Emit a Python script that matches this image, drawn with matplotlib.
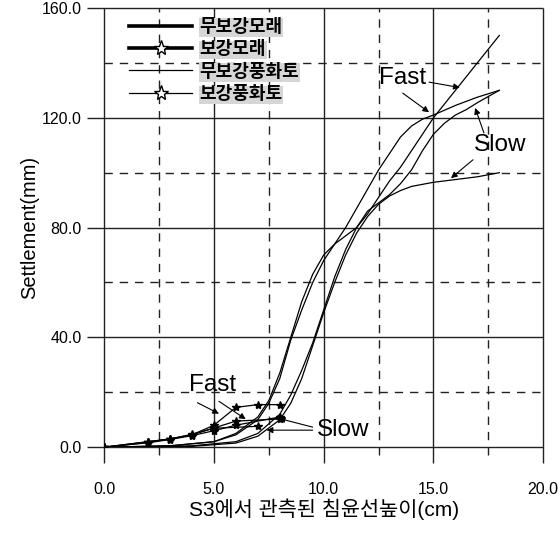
import matplotlib
matplotlib.use('Agg')
import matplotlib.pyplot as plt
from matplotlib.lines import Line2D

plt.rcParams['font.family'] = ['Liberation Sans', 'Noto Sans CJK KR', 'DejaVu Sans']

# 무보강 (unreinforced) curves
sand_fast_x = [0, 3, 5, 6, 7, 7.5, 8, 8.5, 9, 9.5, 10, 10.5, 11, 11.5, 12, 12.5, 13, 13.5, 14, 15, 16, 17, 18]
sand_fast_y = [0, 0.5, 2, 5, 11, 17, 27, 40, 53, 63, 70, 74, 77, 80, 85, 91, 97, 102, 108, 120, 130, 140, 150]
weath_fast_x = [0, 3, 5, 6, 7, 7.5, 8, 8.5, 9, 9.5, 10, 10.5, 11, 11.5, 12, 12.5, 13, 13.5, 14, 14.5, 15, 16, 17, 18]
weath_fast_y = [0, 0.5, 2, 4.5, 10, 16, 25, 39, 50, 60, 68, 74, 80, 87, 94, 101, 107, 113, 117, 119.5, 121, 124.5, 127.5, 130]
sand_slow_x = [0, 4, 6, 7, 8, 8.5, 9, 9.5, 10, 10.5, 11, 11.5, 12, 12.5, 13, 13.5, 14, 14.5, 15, 15.5, 16, 16.5, 17, 18]
sand_slow_y = [0, 0.5, 2, 5, 12, 19, 28, 38, 50, 62, 72, 80, 86, 89, 92, 96, 101, 108, 114, 118, 121, 123, 125.5, 130]
weath_slow_x = [0, 4, 6, 7, 8, 8.5, 9, 9.5, 10, 10.5, 11, 11.5, 12, 12.5, 13, 13.5, 14, 15, 16, 17, 18]
weath_slow_y = [0, 0.3, 1.5, 4, 10, 16, 25, 37, 49, 60, 70, 78, 84, 88.5, 91.5, 93.5, 95, 96.5, 97.5, 98.5, 100]

# 보강 (reinforced) curves
rs_fast_x = [0, 2, 3, 4, 5, 6, 7, 8]
rs_fast_y = [0, 2, 3, 4.5, 8, 14.5, 15.5, 15.5]
rw_fast_x = [0, 2, 3, 4, 5, 6, 8]
rw_fast_y = [0, 2, 3, 4.5, 7, 9.5, 10.3]
rs_slow_x = [0, 2, 3, 4, 5, 7]
rs_slow_y = [0, 1.8, 3, 4.7, 6.9, 7.6]
rw_slow_x = [0, 2, 3, 4, 5, 6, 8]
rw_slow_y = [0, 1.6, 2.8, 4.2, 6.0, 8.0, 11.0]

legend_labels = ['무보강모래', '보강모래', '무보강풍화토', '보강풍화토']

fig = plt.figure(figsize=(5.6, 5.33), dpi=100)
ax = fig.add_axes([0.186, 0.161, 0.784, 0.824])
ax.set_xlim(0, 20)
ax.set_ylim(0, 160)
for s in ax.spines.values():
    s.set_visible(False)

# grid, extended outside like tick marks
for x in [0, 5, 10, 15, 20]:
    ax.vlines(x, -5.8, 160, color='#222222', lw=1.0, clip_on=False, zorder=1)
for x in [2.5, 7.5, 12.5, 17.5]:
    ax.vlines(x, -3.0, 160, color='#222222', lw=1.0, linestyles=(0, (6, 5)), clip_on=False, zorder=1)
for y in [0, 40, 80, 120, 160]:
    ax.hlines(y, -0.77, 20, color='#222222', lw=1.0, clip_on=False, zorder=1)
for y in [20, 60, 100, 140]:
    ax.hlines(y, 0, 20, color='#222222', lw=1.0, linestyles=(0, (6, 5)), clip_on=False, zorder=1)

lw = 0.9
ax.plot(sand_fast_x, sand_fast_y, color='black', lw=lw, zorder=3)
ax.plot(weath_fast_x, weath_fast_y, color='black', lw=lw, zorder=3)
ax.plot(sand_slow_x, sand_slow_y, color='black', lw=lw, zorder=3)
ax.plot(weath_slow_x, weath_slow_y, color='black', lw=lw, zorder=3)
for xs, ys in [(rs_fast_x, rs_fast_y), (rw_fast_x, rw_fast_y), (rs_slow_x, rs_slow_y), (rw_slow_x, rw_slow_y)]:
    ax.plot(xs, ys, color='black', lw=lw, marker='*', ms=6, mfc='black', mec='black', zorder=3)

ax.set_xticks([0, 5, 10, 15, 20])
ax.set_xticklabels(['0.0', '5.0', '10.0', '15.0', '20.0'], fontsize=11.5)
ax.set_yticks([0, 40, 80, 120, 160])
ax.set_yticklabels(['0.0', '40.0', '80.0', '120.0', '160.0'], fontsize=11.5)
ax.tick_params(axis='x', length=0, pad=25)
ax.tick_params(axis='y', length=0, pad=16)
ax.set_xlabel('S3에서 관측된 침윤선높이(cm)', fontsize=15, labelpad=1)
ax.set_ylabel('Settlement(mm)', fontsize=14.5, labelpad=2)

arr = dict(arrowstyle='-|>', color='black', lw=0.8, mutation_scale=9, shrinkA=0, shrinkB=0)
fs = 17.5
ax.text(4.95, 22.5, 'Fast', fontsize=fs, ha='center', va='center', zorder=5)
ax.annotate('', xy=(5.23, 12.2), xytext=(4.25, 16.2), arrowprops=arr)
ax.annotate('', xy=(6.45, 10.2), xytext=(5.23, 16.7), arrowprops=arr)
ax.text(10.9, 6.3, 'Slow', fontsize=fs, ha='center', va='center', zorder=5)
ax.annotate('', xy=(7.95, 10.5), xytext=(9.5, 7.3), arrowprops=arr)
ax.annotate('', xy=(7.4, 6.2), xytext=(9.5, 6.2), arrowprops=arr)
ax.text(13.6, 134.5, 'Fast', fontsize=fs, ha='center', va='center', zorder=5)
ax.annotate('', xy=(16.2, 131), xytext=(14.8, 133), arrowprops=arr)
ax.annotate('', xy=(14.8, 122), xytext=(13.6, 129), arrowprops=arr)
ax.text(18.05, 110, 'Slow', fontsize=fs, ha='center', va='center', zorder=5)
ax.annotate('', xy=(16.9, 123.6), xytext=(17.3, 114.5), arrowprops=arr)
ax.annotate('', xy=(15.8, 98), xytext=(16.8, 104.7), arrowprops=arr)

handles = [
    Line2D([], [], color='black', lw=2.6),
    Line2D([], [], color='black', lw=2.6, marker='*', ms=11, mfc='white', mec='black', mew=1),
    Line2D([], [], color='black', lw=0.9),
    Line2D([], [], color='black', lw=0.9, marker='*', ms=11, mfc='white', mec='black', mew=1),
]
leg = ax.legend(handles, legend_labels, loc='upper left', bbox_to_anchor=(0.02, 1.012),
                frameon=False, handlelength=3.5, handletextpad=0.4, labelspacing=0.3,
                prop={'size': 13, 'weight': 'bold'})
for t in leg.get_texts():
    t.set_bbox(dict(facecolor='#d6d6d6', edgecolor='none', pad=0.5))

fig.savefig('out.png', dpi=100)
